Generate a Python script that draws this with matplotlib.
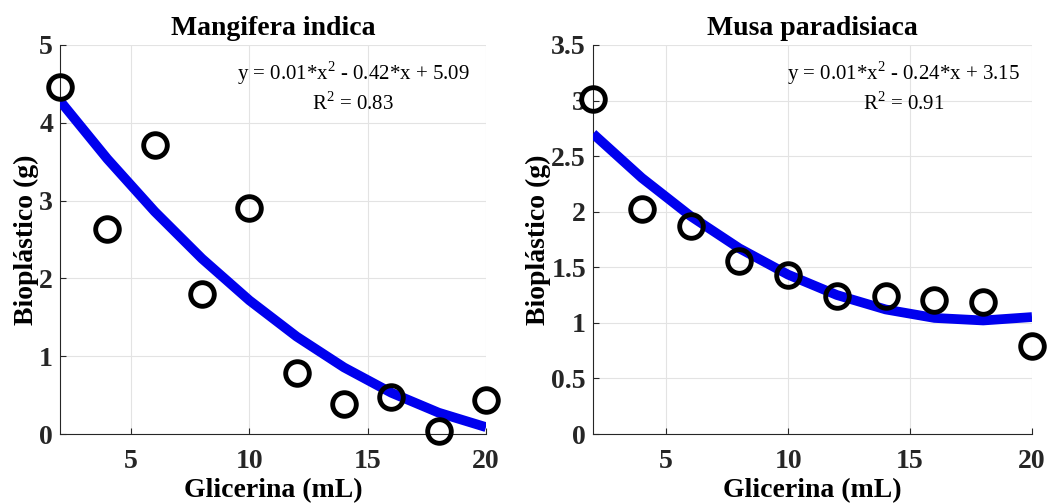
import numpy as np
import matplotlib
matplotlib.use("Agg")
import matplotlib.pyplot as plt

plt.rcParams['font.family'] = ['Liberation Serif', 'DejaVu Serif']
plt.rcParams['mathtext.fontset'] = 'custom'
plt.rcParams['mathtext.rm'] = 'Liberation Serif'

glicerina = [2, 4, 6, 8, 10, 12, 14, 16, 18, 20]
mango = [4.46, 2.64, 3.71, 1.80, 2.91, 0.78, 0.39, 0.48, 0.04, 0.44]
musa = [3.01, 2.02, 1.87, 1.56, 1.43, 1.24, 1.24, 1.21, 1.19, 0.79]

titles = ["Mangifera indica", "Musa paradisiaca"]
equations = ["y = 0.01*x$^{2}$ - 0.42*x + 5.09\nR$^{2}$ = 0.83",
             "y = 0.01*x$^{2}$ - 0.24*x + 3.15\nR$^{2}$ = 0.91"]
ylims = [(0, 5), (0, 3.5)]
yticks = [[0, 1, 2, 3, 4, 5], [0, 0.5, 1, 1.5, 2, 2.5, 3, 3.5]]
yticklabels = [["0", "1", "2", "3", "4", "5"],
               ["0", "0.5", "1", "1.5", "2", "2.5", "3", "3.5"]]
xticks = [5, 10, 15, 20]
xlabel = "Glicerina (mL)"
ylabel = "Bioplástico (g)"

W, H = 1055, 504
fig = plt.figure(figsize=(W / 100, H / 100), dpi=100)
boxes = [(60, 45, 486, 434), (593, 45, 1032, 434)]
text_x = [0.688, 0.708]

for i, (series, box) in enumerate(zip([mango, musa], boxes)):
    l, t, r, b = box
    ax = fig.add_axes([l / W, 1 - b / H, (r - l) / W, (b - t) / H])
    x = np.array(glicerina, dtype=float)
    y = np.array(series, dtype=float)
    coef = np.polyfit(x, y, 2)
    yfit = np.polyval(coef, x)
    ax.plot(x, yfit, color='#0000ee', lw=7, solid_capstyle='butt', zorder=3)
    ax.plot(x, y, 'o', ms=17, mfc='none', mec='black', mew=3.5, zorder=4,
            clip_on=False)
    ax.set_xlim(2, 20)
    ax.set_ylim(*ylims[i])
    ax.set_xticks(xticks)
    ax.set_xticklabels([str(v) for v in xticks], fontweight='bold', fontsize=20)
    ax.set_yticks(yticks[i])
    ax.set_yticklabels(yticklabels[i], fontweight='bold', fontsize=20)
    ax.tick_params(direction='in', length=4, width=0.8, colors='#262626',
                   top=False, right=False)
    ax.tick_params(axis='x', pad=11)
    ax.tick_params(axis='y', pad=5)
    ax.grid(True, color='#e3e3e3', lw=0.8)
    ax.set_axisbelow(True)
    for s in ['top', 'right']:
        ax.spines[s].set_visible(False)
    for s in ['left', 'bottom']:
        ax.spines[s].set_color('#262626')
        ax.spines[s].set_linewidth(0.8)
    ax.set_xlabel(xlabel, fontweight='bold', fontsize=20, labelpad=3)
    ax.set_ylabel(ylabel, fontweight='bold', fontsize=20, labelpad=0)
    ax.set_title(titles[i], fontweight='bold', fontsize=20, pad=7)
    ax.text(text_x[i], 0.962, equations[i], transform=ax.transAxes,
            ha='center', va='top', fontsize=15, linespacing=1.3)

fig.savefig("out.png", dpi=100)
